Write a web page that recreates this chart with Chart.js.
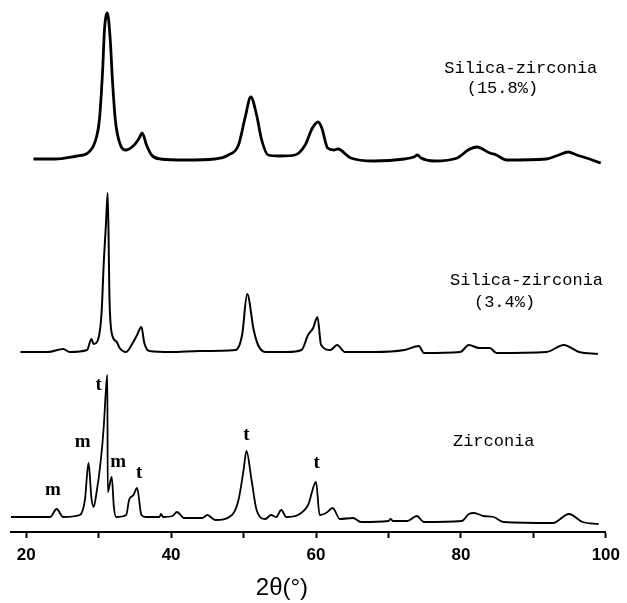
<!DOCTYPE html>
<html>
<head>
<meta charset="utf-8">
<script src="https://cdn.jsdelivr.net/npm/chart.js@4/dist/chart.umd.min.js"></script>
<style>
  body { margin: 0; background: #fff; }
</style>
</head>
<body>
<canvas id="myChart" width="627" height="603"></canvas>
<script>
// 2theta positions and intensities (arbitrary units)
const topAngles = [21, 24, 27, 28.5, 29.7, 30.1, 30.55, 30.8, 31.2, 31.6, 31.9, 32.3, 32.9, 33.8, 34.9, 35.6, 36.0, 36.6, 37.3, 38.5,
    42, 46, 47.9, 49.3, 50.2, 51.0, 51.8, 52.5, 53.4, 55, 57.1, 58.5, 59.5, 60.3, 60.8, 61.6, 62.5, 63.0, 64.8, 68,
    72.2, 73.5, 74.0, 74.5, 76.3, 79.5, 81.0, 82.2, 84.0, 84.9, 86.3, 91.8, 93.5, 94.8, 96, 97.3, 99.3];
const topCounts = [5, 5, 8, 11, 27, 44, 94, 134, 151, 124, 84, 44, 21, 14, 19, 26, 31, 19, 9, 5,
    4, 5, 9, 19, 46, 67, 49, 24, 9, 8, 9, 19, 36, 42, 36, 16, 14, 15, 6, 3,
    5, 7, 9, 6, 3, 6, 14, 17, 11, 9, 4, 5, 9, 12, 9, 6, 1];

const midAngles = [19.2, 23, 25.1, 26, 28.4, 29.0, 29.3, 29.9, 30.4, 30.7, 31.0, 31.25, 31.5, 31.8, 32.5, 32.9, 33.8, 34.7, 35.3, 35.9,
    36.3, 37.0, 40, 44, 48.9, 49.8, 50.5, 51.4, 52.0, 53.0, 56, 58.0, 58.9, 59.6, 60.2, 60.7, 62.0, 62.9, 64.0, 68,
    72.2, 74.2, 74.9, 79.9, 81.1, 82.5, 84.0, 84.9, 91.8, 94.2, 96.3, 98.9];
const midCounts = [3, 3, 6, 3, 5, 16, 11, 15, 42, 92, 130, 162, 55, 22, 13, 7, 3, 12, 20, 28,
    12, 4, 3, 4, 5, 20, 61, 25, 10, 3, 3, 5, 20, 27, 38, 10, 5, 10, 3, 3,
    5, 9, 2, 3, 10, 7, 7, 2, 3, 10, 3, 1];

const zrAngles = [17.9, 23.3, 24.2, 25.1, 27.4, 28.1, 28.6, 29.0, 29.3, 29.7, 30.3, 30.7, 31.0, 31.2, 31.25, 31.8, 32.1, 32.4, 33.8, 34.2,
    34.8, 35.3, 35.9, 36.5, 38.4, 38.6, 38.9, 40.2, 40.8, 41.8, 44.3, 45.0, 46.1, 48.4, 49.3, 50.0, 50.4, 51.1, 51.8, 53.0,
    53.8, 54.5, 55.2, 55.9, 57.5, 58.9, 60.0, 60.5, 61.4, 62.3, 63.3, 65.1, 66.2, 70.0, 70.3, 70.6, 72.6, 73.9, 74.9, 80.1,
    81.1, 81.8, 83.1, 84.5, 85.9, 92.7, 94.9, 96.8, 99.0];
const zrCounts = [8, 8, 16, 8, 10, 25, 62, 27, 18, 32, 65, 98, 135, 150, 33, 48, 18, 8, 10, 25,
    30, 37, 10, 8, 8, 11, 8, 9, 13, 7, 7, 10, 5, 10, 25, 55, 74, 45, 15, 6,
    10, 8, 15, 8, 10, 20, 43, 10, 12, 17, 6, 7, 3, 4, 6, 4, 4, 9, 3, 4,
    11, 12, 9, 8, 3, 2, 11, 3, 1];

// vertical stacking offsets of the three patterns
const offsets = [368, 177, 7];

const xTicks = [20, 30, 40, 50, 60, 70, 80, 90, 100];
const xLabels = ['20', '', '40', '', '60', '', '80', '', '100'];
const xTitle = '2θ(°)';

const sampleNames = [
    { text: 'Silica-zirconia', x: 77.7, y: 464 },
    { text: '(15.8%)', x: 80.8, y: 444 },
    { text: 'Silica-zirconia', x: 78.5, y: 252 },
    { text: '(3.4%)', x: 81.8, y: 230 },
    { text: 'Zirconia', x: 78.9, y: 91 }
];

// m = monoclinic, t = tetragonal
const phaseMarks = ['m', 'm', 't', 'm', 't', 't', 't'];
const phaseAngles = [23.7, 27.8, 30.0, 32.7, 35.6, 50.4, 60.1];
const phaseHeights = [42, 90, 147, 70, 59, 97, 69];

function makeSeries(angles, counts, offset) {
    let pts = [];
    for (var i = 0; i < angles.length; i++) {
        pts.push({ x: angles[i], y: counts[i] + offset });
    }
    return pts;
}

const labelPlugin = {
    id: 'labels',
    afterDatasetsDraw(chart) {
        const ctx = chart.ctx;
        const xs = chart.scales.x;
        const ys = chart.scales.y;
        ctx.save();
        ctx.fillStyle = '#000';
        ctx.textBaseline = 'middle';
        ctx.textAlign = 'left';
        ctx.font = '17px "Liberation Mono", monospace';
        sampleNames.forEach(function (n) {
            ctx.fillText(n.text, xs.getPixelForValue(n.x), ys.getPixelForValue(n.y));
        });
        ctx.textAlign = 'center';
        ctx.font = 'bold 19px "Liberation Serif", serif';
        for (var i = 0; i < phaseMarks.length; i++) {
            ctx.fillText(phaseMarks[i], xs.getPixelForValue(phaseAngles[i]), ys.getPixelForValue(phaseHeights[i]));
        }
        // axis title sits left of centre in the original
        ctx.font = '24px "Liberation Sans", Arial, sans-serif';
        ctx.fillText(xTitle, xs.getPixelForValue(55.3), ys.getPixelForValue(-56));
        ctx.restore();
    }
};

const data = {
    datasets: [{
        data: makeSeries(topAngles, topCounts, offsets[0]),
        borderWidth: 2.8
    }, {
        data: makeSeries(midAngles, midCounts, offsets[1]),
        borderWidth: 2
    }, {
        data: makeSeries(zrAngles, zrCounts, offsets[2]),
        borderWidth: 1.8
    }]
};
data.datasets.forEach(function (d) {
    d.showLine = true;
    d.borderColor = '#000';
    d.pointRadius = 0;
    d.fill = false;
    d.cubicInterpolationMode = 'monotone';
});

const ctx = document.getElementById('myChart').getContext('2d');
const myChart = new Chart(ctx, {
    type: 'scatter',
    data: data,
    options: {
        responsive: false,
        animation: false,
        layout: { padding: { top: 5, left: 11, right: 17, bottom: 0 } },
        plugins: { legend: { display: false }, tooltip: { enabled: false } },
        scales: {
            x: {
                type: 'linear',
                min: 17.9,
                max: 100,
                afterBuildTicks: function (scale) {
                    scale.ticks = xTicks.map(function (v) { return { value: v }; });
                },
                afterFit: function (scale) { scale.height = 71; },
                ticks: {
                    color: '#000',
                    padding: 7,
                    maxRotation: 0,
                    autoSkip: false,
                    font: { family: '"Liberation Sans", Arial, sans-serif', size: 17, weight: 'bold' },
                    callback: function (value, index) { return xLabels[index]; }
                },
                grid: { drawOnChartArea: false, drawTicks: true, tickLength: 6, color: '#000', tickWidth: 2 },
                border: { display: true, color: '#000', width: 2 }
            },
            y: {
                display: false,
                min: 0,
                max: 527
            }
        }
    },
    plugins: [labelPlugin]
});
</script>
</body>
</html>
